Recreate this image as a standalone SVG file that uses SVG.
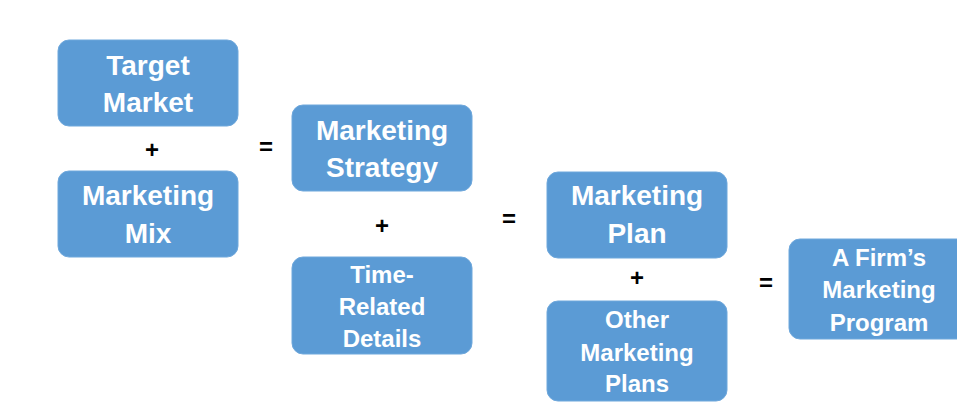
<svg xmlns="http://www.w3.org/2000/svg" width="957" height="419" viewBox="0 0 957 419">
<style>
.box{fill:#5B9BD5;stroke:#6FA8DC;stroke-width:1}
.t{font-family:"Liberation Sans",Arial,sans-serif;font-weight:bold;fill:#ffffff;text-anchor:middle;font-size:28px}
.s{font-size:24px}
.op{font-family:"Liberation Sans",Arial,sans-serif;font-weight:bold;fill:#000000;text-anchor:middle;font-size:24px}
</style>
<rect width="957" height="419" fill="#ffffff"/>
<g id="target-market">
<rect class="box" x="58" y="40" width="180" height="86" rx="11"/>
<text class="t" x="148" y="75">Target</text>
<text class="t" x="148" y="112">Market</text>
</g>
<g id="marketing-mix">
<rect class="box" x="58" y="171" width="180" height="86" rx="11"/>
<text class="t" x="148" y="205">Marketing</text>
<text class="t" x="148" y="243">Mix</text>
</g>
<g id="marketing-strategy">
<rect class="box" x="292" y="105" width="180" height="86" rx="11"/>
<text class="t" x="382" y="140">Marketing</text>
<text class="t" x="382" y="177">Strategy</text>
</g>
<g id="time-related-details">
<rect class="box" x="292" y="257" width="180" height="97" rx="11"/>
<text class="t s" x="382" y="283">Time-</text>
<text class="t s" x="382" y="315">Related</text>
<text class="t s" x="382" y="347">Details</text>
</g>
<g id="marketing-plan">
<rect class="box" x="547" y="172" width="180" height="86" rx="11"/>
<text class="t" x="637" y="205">Marketing</text>
<text class="t" x="637" y="243">Plan</text>
</g>
<g id="other-marketing-plans">
<rect class="box" x="547" y="301" width="180" height="100" rx="11"/>
<text class="t s" x="637" y="328">Other</text>
<text class="t s" x="637" y="361">Marketing</text>
<text class="t s" x="637" y="392">Plans</text>
</g>
<g id="firms-marketing-program">
<rect class="box" x="789" y="239" width="180" height="100" rx="11"/>
<text class="t s" x="879" y="266">A Firm’s</text>
<text class="t s" x="879" y="298">Marketing</text>
<text class="t s" x="879" y="331">Program</text>
</g>
<g id="connectors">
<text class="op" x="152" y="158">+</text>
<text class="op" x="266" y="155">=</text>
<text class="op" x="382" y="234">+</text>
<text class="op" x="509" y="227">=</text>
<text class="op" x="637" y="286">+</text>
<text class="op" x="766" y="291">=</text>
</g>
</svg>
